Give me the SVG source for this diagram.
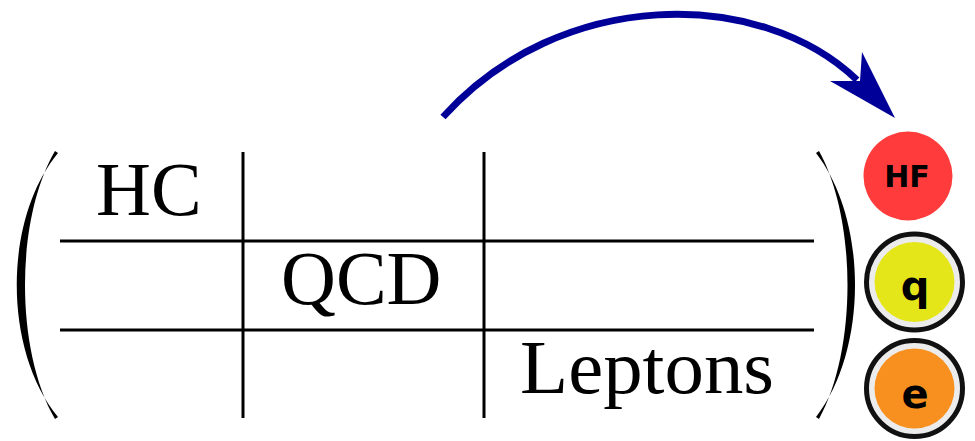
<svg xmlns="http://www.w3.org/2000/svg" width="975" height="441" viewBox="0 0 975 441">
<style>
.grid{stroke:#000;stroke-width:3;fill:none}
.paren{fill:#000}
.lbl{font-family:"Liberation Serif","Times New Roman",serif;font-size:76px;fill:#000}
.ball{font-family:"DejaVu Sans","Liberation Sans",sans-serif;font-weight:bold;fill:#000;text-anchor:middle}
.ring{stroke:#111;stroke-width:5;fill:#ececec}
</style>
<rect width="975" height="441" fill="#fff"/>
<g id="matrix">
<path class="paren" d="M58,153 C3,220 3,350 58,417 L55,419 C15,350 15,220 55,151 Z"/>
<path class="paren" d="M816,153 C868,220 868,350 816,417 L819,419 C857,350 857,220 819,151 Z"/>
<line class="grid" x1="243" y1="152" x2="243" y2="418"/>
<line class="grid" x1="484" y1="152" x2="484" y2="418"/>
<line class="grid" x1="60" y1="241" x2="814" y2="241"/>
<line class="grid" x1="60" y1="330" x2="814" y2="330"/>
<text class="lbl" x="96" y="215">HC</text>
<text class="lbl" x="281" y="304">QCD</text>
<text class="lbl" x="520" y="393" textLength="254" lengthAdjust="spacingAndGlyphs">Leptons</text>
</g>
<g id="HF">
<circle cx="908" cy="176" r="44.5" fill="#ff3b3b"/>
<text class="ball" x="907" y="187" font-size="30">HF</text>
</g>
<g id="q">
<circle class="ring" cx="914.5" cy="282" r="48"/>
<circle cx="914.5" cy="282" r="40" fill="#e5e619"/>
<text class="ball" x="915" y="300" font-size="40">q</text>
</g>
<g id="e">
<circle class="ring" cx="914.5" cy="388.5" r="48"/>
<circle cx="914.5" cy="388.5" r="40" fill="#f7901e"/>
<text class="ball" x="915" y="408" font-size="40">e</text>
</g>
<g id="connectors">
<path d="M443,117 C560,-13 760,-13 857,80" fill="none" stroke="#000099" stroke-width="7"/>
<polygon points="895,118 862,52 860,81 830,81" fill="#000099"/>
</g>
</svg>
